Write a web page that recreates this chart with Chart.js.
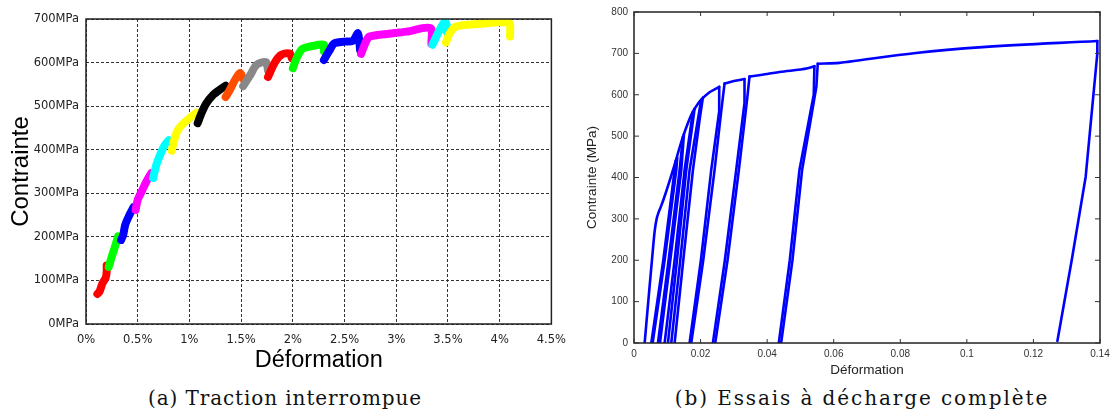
<!DOCTYPE html>
<html>
<head>
<meta charset="utf-8">
<script src="https://cdn.jsdelivr.net/npm/chart.js@4"></script>
<style>
  body { margin: 0; background: #fff; width: 1115px; height: 412px; overflow: hidden; position: relative; }
  #left { position: absolute; left: 0; top: 0; }
  #right { position: absolute; left: 575px; top: 0; }
  .caption { position: absolute; top: 387px; font-family: "DejaVu Serif", serif; font-size: 20px; line-height: 23px; color: #111; white-space: nowrap; transform: translateX(-50%); }
</style>
</head>
<body>
<canvas id="left" width="575" height="375"></canvas>
<canvas id="right" width="540" height="378"></canvas>
<div class="caption" style="left:285px; letter-spacing:0.9px">(a) Traction interrompue</div>
<div class="caption" style="left:862px; letter-spacing:1.9px">(b) Essais à décharge complète</div>
<script>
// (a) Traction interrompue : x en %, y en MPa
const xTicksA = [0, 0.5, 1, 1.5, 2, 2.5, 3, 3.5, 4, 4.5]
const yTicksA = [0, 100, 200, 300, 400, 500, 600, 700]
const colorsA = ["#ff0000", "#00ff00", "#0000ff", "#ff00ff", "#00ffff", "#ffff00", "#000000", "#ff4d00",
  "#888888", "#ff0000", "#00ff00", "#0000ff", "#ff00ff", "#00ffff", "#ffff00"]
const seg1 = [[0.11, 69], [0.13, 74], [0.16, 94], [0.19, 106], [0.2, 120], [0.2, 134]]
const seg2 = [[0.22, 131], [0.25, 155], [0.29, 185], [0.31, 201]]
const seg3 = [[0.34, 193], [0.36, 205], [0.38, 228], [0.42, 250], [0.46, 268]]
const seg4 = [[0.48, 262], [0.5, 285], [0.54, 305], [0.58, 325], [0.63, 346]]
const seg5 = [[0.65, 335], [0.68, 365], [0.72, 390], [0.76, 410], [0.8, 422]]
const seg6 = [[0.83, 398], [0.85, 420], [0.89, 446], [0.95, 462], [1.03, 478], [1.07, 485]]
const seg7 = [[1.08, 461], [1.11, 480], [1.16, 505], [1.23, 526], [1.29, 537], [1.35, 547]]
const seg8 = [[1.35, 521], [1.39, 537], [1.44, 560], [1.49, 576], [1.52, 562]]
const seg9 = [[1.52, 546], [1.59, 572], [1.65, 595], [1.74, 601], [1.76, 582]]
const seg10 = [[1.76, 567], [1.83, 602], [1.89, 618], [1.97, 621], [1.99, 610]]
const seg11 = [[2.0, 587], [2.04, 612], [2.09, 631], [2.17, 637], [2.3, 641], [2.3, 626]]
const seg12 = [[2.3, 606], [2.35, 626], [2.4, 644], [2.5, 648], [2.58, 650], [2.63, 667], [2.65, 629]]
const seg13 = [[2.66, 620], [2.73, 658], [2.79, 662], [3.1, 671], [3.33, 679], [3.34, 643]]
const seg14 = [[3.35, 641], [3.42, 675], [3.47, 694], [3.49, 684], [3.49, 670]]
const seg15 = [[3.48, 646], [3.52, 668], [3.58, 683], [3.81, 689], [4.08, 693], [4.1, 688], [4.1, 660]]
const segmentsA = [seg1, seg2, seg3, seg4, seg5, seg6, seg7, seg8, seg9, seg10, seg11, seg12, seg13, seg14, seg15]

// (b) Essais à décharge complète : deformation, contrainte en MPa
const xTicksB = [0, 0.02, 0.04, 0.06, 0.08, 0.1, 0.12, 0.14]
const yTicksB = [0, 100, 200, 300, 400, 500, 600, 700, 800]
const envelope1 = [[0.0032, 0], [0.0045, 120], [0.0055, 210], [0.0062, 270], [0.0068, 300], [0.0075, 318],
  [0.0082, 332], [0.0095, 362], [0.0117, 418], [0.0147, 498], [0.0165, 538], [0.0177, 559], [0.019, 576],
  [0.0202, 588], [0.0225, 605], [0.0245, 614], [0.0256, 619]]
const envelope2 = [[0.0272, 627], [0.03, 633], [0.0332, 638]]
const envelope3 = [[0.0347, 644], [0.04, 650], [0.0437, 655], [0.0522, 664], [0.0542, 669]]
const envelope4 = [[0.0552, 675], [0.0617, 677], [0.0647, 680], [0.0847, 701], [0.1047, 715], [0.1392, 730]]
const unloadA = [[0.0125, 440], [0.0122, 418], [0.0088, 200], [0.0052, 0]]
const reloadA = [[0.0056, 0], [0.0092, 200], [0.0127, 418], [0.013, 448]]
const unloadB = [[0.0147, 498], [0.0137, 418], [0.0104, 200], [0.0072, 0]]
const reloadB = [[0.0078, 0], [0.0109, 200], [0.0142, 418], [0.015, 505]]
const unloadC = [[0.0177, 559], [0.0152, 418], [0.0122, 200], [0.0092, 0]]
const reloadC = [[0.0102, 0], [0.0129, 200], [0.0157, 418], [0.0182, 566]]
const unloadD = [[0.0202, 588], [0.0192, 540], [0.0167, 418], [0.0139, 200], [0.0112, 0]]
const reloadD = [[0.0122, 0], [0.0148, 200], [0.0177, 418], [0.0198, 545], [0.0207, 593]]
const unloadE = [[0.0256, 619], [0.0256, 560], [0.0232, 418], [0.0201, 200], [0.0167, 0]]
const reloadE = [[0.0172, 0], [0.0208, 200], [0.0242, 418], [0.0262, 560], [0.0272, 627]]
const unloadF = [[0.0332, 638], [0.0332, 580], [0.0307, 418], [0.0273, 200], [0.0237, 0]]
const reloadF = [[0.0244, 0], [0.0281, 200], [0.0315, 418], [0.034, 590], [0.0347, 644]]
const unloadG = [[0.0542, 669], [0.054, 600], [0.0497, 418], [0.0468, 200], [0.0435, 0]]
const reloadG = [[0.0442, 0], [0.0476, 200], [0.0505, 418], [0.0548, 620], [0.0552, 675]]
const unloadH = [[0.1392, 730], [0.1392, 700], [0.1357, 402], [0.1315, 200], [0.1272, 5]]
const envelopesB = [envelope1, envelope2, envelope3, envelope4]
const loopsB = [unloadA, reloadA, unloadB, reloadB, unloadC, reloadC, unloadD, reloadD,
  unloadE, reloadE, unloadF, reloadF, unloadG, reloadG, unloadH]

const toPoints = (arr) => arr.map(([x, y]) => ({ x, y }))

// Box around the plot area
const boxPlugin = {
  id: "box",
  afterDraw(chart, args, opts) {
    const { ctx, chartArea: a } = chart
    ctx.save()
    ctx.strokeStyle = opts.color
    ctx.lineWidth = opts.width
    ctx.strokeRect(a.left, a.top, a.right - a.left, a.bottom - a.top)
    ctx.restore()
  },
}

// Inward tick marks on all four sides (right chart)
const inTicksPlugin = {
  id: "inTicks",
  afterDraw(chart, args, opts) {
    if (!opts.on) return
    const { ctx, chartArea: a, scales } = chart
    ctx.save()
    ctx.strokeStyle = "#333"
    ctx.lineWidth = 1
    ctx.beginPath()
    scales.x.ticks.forEach((t) => {
      const px = scales.x.getPixelForValue(t.value)
      ctx.moveTo(px, a.bottom); ctx.lineTo(px, a.bottom - 4)
      ctx.moveTo(px, a.top); ctx.lineTo(px, a.top + 4)
    })
    scales.y.ticks.forEach((t) => {
      const py = scales.y.getPixelForValue(t.value)
      ctx.moveTo(a.left, py); ctx.lineTo(a.left + 5, py)
      ctx.moveTo(a.right, py); ctx.lineTo(a.right - 5, py)
    })
    ctx.stroke()
    ctx.restore()
  },
}

Chart.register(boxPlugin, inTicksPlugin)

new Chart(document.getElementById("left"), {
  type: "scatter",
  data: {
    datasets: segmentsA.map((seg, i) => ({
      data: toPoints(seg),
      showLine: true,
      borderColor: colorsA[i],
      backgroundColor: colorsA[i],
      borderWidth: 8,
      borderCapStyle: "round",
      borderJoinStyle: "round",
      pointRadius: 0,
      tension: 0.3,
      order: -i,
    })),
  },
  options: {
    responsive: false,
    animation: false,
    events: [],
    layout: { padding: { top: 19, right: 23, bottom: 0, left: 0 } },
    plugins: {
      legend: { display: false },
      tooltip: { enabled: false },
      box: { color: "#222", width: 1.5 },
      inTicks: { on: false },
    },
    scales: {
      x: {
        type: "linear",
        min: 0,
        max: 4.5,
        afterBuildTicks: (s) => { s.ticks = xTicksA.map((v) => ({ value: v })) },
        afterFit: (s) => { s.height = 51 },
        grid: { color: "#333", lineWidth: 1, drawTicks: false },
        border: { display: false, dash: [3, 2] },
        ticks: { padding: 9, color: "#222", font: { family: "DejaVu Sans", size: 11.5 }, callback: (v) => v + "%" },
        title: { display: true, text: "Déformation", color: "#000", padding: 0, font: { family: "Liberation Sans", size: 23.5 } },
      },
      y: {
        type: "linear",
        min: 0,
        max: 700,
        afterBuildTicks: (s) => { s.ticks = yTicksA.map((v) => ({ value: v })) },
        afterFit: (s) => { s.width = 86 },
        grid: { color: "#333", lineWidth: 1, drawTicks: false },
        border: { display: false, dash: [3, 2] },
        ticks: { padding: 7, color: "#222", font: { family: "DejaVu Sans", size: 11.5 }, callback: (v) => v + "MPa" },
        title: { display: true, text: "Contrainte", color: "#000", padding: { top: 7, bottom: 0 }, font: { family: "Liberation Sans", size: 24 } },
      },
    },
  },
})

const lineStyleB = {
  showLine: true,
  borderColor: "#0000ff",
  borderWidth: 2.6,
  borderCapStyle: "round",
  borderJoinStyle: "round",
  pointRadius: 0,
}

new Chart(document.getElementById("right"), {
  type: "scatter",
  data: {
    datasets: [
      ...envelopesB.map((c) => ({ ...lineStyleB, data: toPoints(c), cubicInterpolationMode: "monotone" })),
      ...loopsB.map((c) => ({ ...lineStyleB, data: toPoints(c), tension: 0 })),
    ],
  },
  options: {
    responsive: false,
    animation: false,
    events: [],
    layout: { padding: { top: 12, right: 15, bottom: 0, left: 0 } },
    plugins: {
      legend: { display: false },
      tooltip: { enabled: false },
      box: { color: "#222", width: 1.5 },
      inTicks: { on: true },
    },
    scales: {
      x: {
        type: "linear",
        min: 0,
        max: 0.14,
        afterBuildTicks: (s) => { s.ticks = xTicksB.map((v) => ({ value: v })) },
        afterFit: (s) => { s.height = 35 },
        grid: { display: false, drawTicks: false },
        border: { display: false },
        ticks: { padding: 5, color: "#333", font: { family: "Liberation Sans", size: 10 }, callback: (v) => String(Number(v.toFixed(2))) },
        title: { display: true, text: "Déformation", color: "#222", padding: 0, font: { family: "Liberation Sans", size: 13.5 } },
      },
      y: {
        type: "linear",
        min: 0,
        max: 800,
        afterBuildTicks: (s) => { s.ticks = yTicksB.map((v) => ({ value: v })) },
        afterFit: (s) => { s.width = 59 },
        grid: { display: false, drawTicks: false },
        border: { display: false },
        ticks: { padding: 6, color: "#333", font: { family: "Liberation Sans", size: 10 } },
        title: { display: true, text: "Contrainte (MPa)", color: "#222", padding: { top: 9, bottom: 0 }, font: { family: "Liberation Sans", size: 13.5 } },
      },
    },
  },
})
</script>
</body>
</html>
